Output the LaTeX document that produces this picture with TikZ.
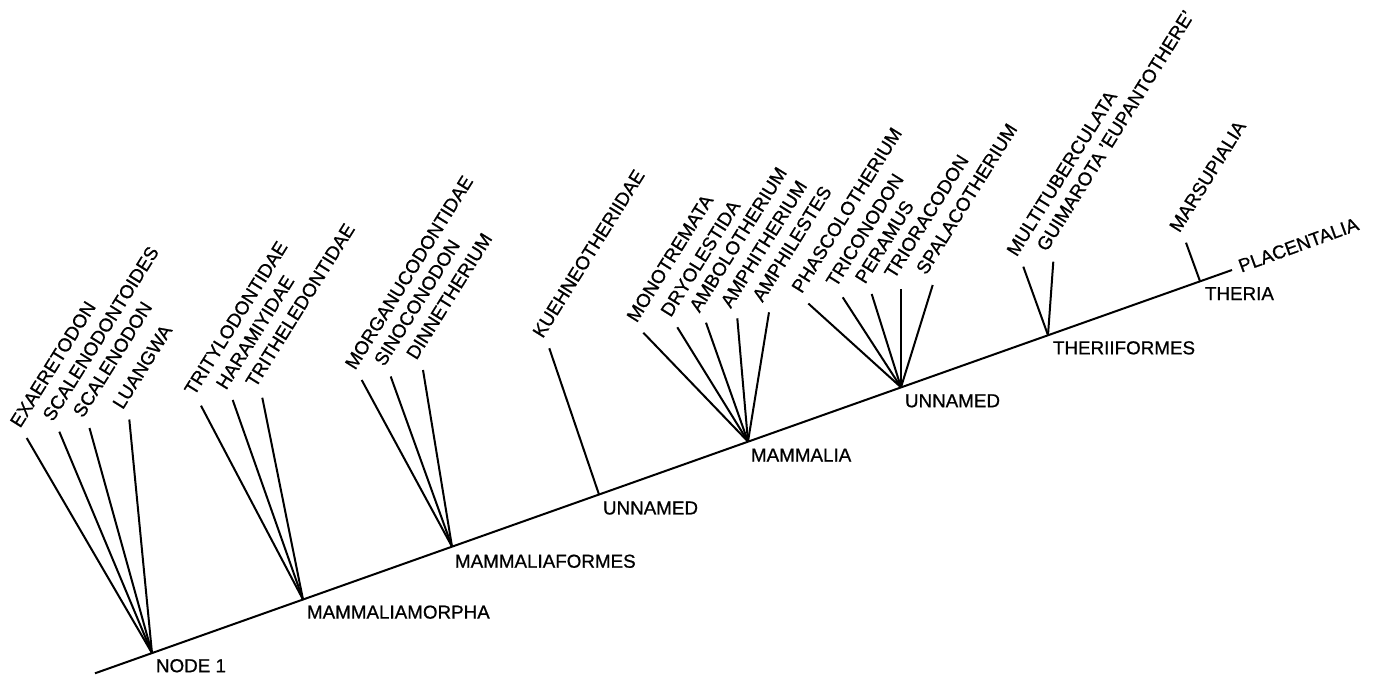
\documentclass[tikz,border=0pt]{standalone}
\usepackage{fontspec}
\setmainfont[FakeBold=0.8,AutoFakeBold=0.8]{Liberation Sans}
\usetikzlibrary{calc}
\newcommand\mkleaf[4]{%
  \coordinate (#1) at (#2);
  \draw (#1) -- (#4);
  \node[taxon] (#1l) at ($(#1)+(-7,-8.5)$) {#3};}
\begin{document}
\begin{tikzpicture}[x=1pt,y=-1pt,line width=2pt,
  lbl/.style={inner sep=0pt,font=\fontsize{18.8}{20}\selectfont\bfseries},
  taxon/.style={lbl,anchor=base west,rotate=58},
  clade/.style={lbl,anchor=north west}]
\useasboundingbox (0,0) rectangle (1374,677);
% main stem
\coordinate (r0) at (95,673.3);
\coordinate (r1) at (1232,270);
\coordinate (n1) at (152,653.1);
\coordinate (n2) at (303,599.5);
\coordinate (n3) at (452,546.6);
\coordinate (n4) at (599,494.5);
\coordinate (n5) at (748,441.6);
\coordinate (n6) at (901,387.3);
\coordinate (n7) at (1048,335.2);
\coordinate (n8) at (1200,281.2);
\draw (r0) -- (r1);
% clade labels
\node[clade] (n1l) at ($(n1)+(3,5)$) {NODE 1};
\node[clade] (n2l) at ($(n2)+(3,5)$) {MAMMALIAMORPHA};
\node[clade] (n3l) at ($(n3)+(2,7)$) {MAMMALIAFORMES};
\node[clade] (n4l) at ($(n4)+(3,6)$) {UNNAMED};
\node[clade] (n5l) at ($(n5)+(2,6)$) {MAMMALIA};
\node[clade] (n6l) at ($(n6)+(3,6)$) {UNNAMED};
\node[clade] (n7l) at ($(n7)+(4,5)$) {THERIIFORMES};
\node[clade] (n8l) at ($(n8)+(4,5)$) {THERIA};
\node[lbl,anchor=base west,rotate=20] (pl) at ($(r1)+(8.5,3)$) {PLACENTALIA};
% leaves
\mkleaf{exa}{26.7,438}{EXAERETODON}{n1}
\mkleaf{scd}{59.3,431.7}{SCALENODONTOIDES}{n1}
\mkleaf{scn}{89.5,428}{SCALENODON}{n1}
\mkleaf{lua}{129.3,419.5}{LUANGWA}{n1}
\mkleaf{trl}{201,405.7}{TRITYLODONTIDAE}{n2}
\mkleaf{har}{232.7,400}{HARAMIYIDAE}{n2}
\mkleaf{trh}{262.3,397.7}{TRITHELEDONTIDAE}{n2}
\mkleaf{mor}{361.7,380}{MORGANUCODONTIDAE}{n3}
\mkleaf{sin}{390.7,376.5}{SINOCONODON}{n3}
\mkleaf{din}{423,370}{DINNETHERIUM}{n3}
\mkleaf{kue}{549.3,348.3}{KUEHNEOTHERIIDAE}{n4}
\mkleaf{mon}{643.3,332.7}{MONOTREMATA}{n5}
\mkleaf{dry}{677.3,327.3}{DRYOLESTIDA}{n5}
\mkleaf{amb}{706,322.7}{AMBOLOTHERIUM}{n5}
\mkleaf{amt}{737.3,318.3}{AMPHITHERIUM}{n5}
\mkleaf{aml}{769,312.3}{AMPHILESTES}{n5}
\mkleaf{pha}{808.3,303.5}{PHASCOLOTHERIUM}{n6}
\mkleaf{trc}{842.7,297.3}{TRICONODON}{n6}
\mkleaf{per}{871.7,294}{PERAMUS}{n6}
\mkleaf{tro}{901,289}{TRIORACODON}{n6}
\mkleaf{spa}{932.7,285}{SPALACOTHERIUM}{n6}
\mkleaf{mul}{1023.3,266.7}{MULTITUBERCULATA}{n7}
\mkleaf{gui}{1053.3,261.7}{GUIMAROTA 'EUPANTOTHERE'}{n7}
\mkleaf{mar}{1186,242.7}{MARSUPIALIA}{n8}
\end{tikzpicture}
\end{document}
